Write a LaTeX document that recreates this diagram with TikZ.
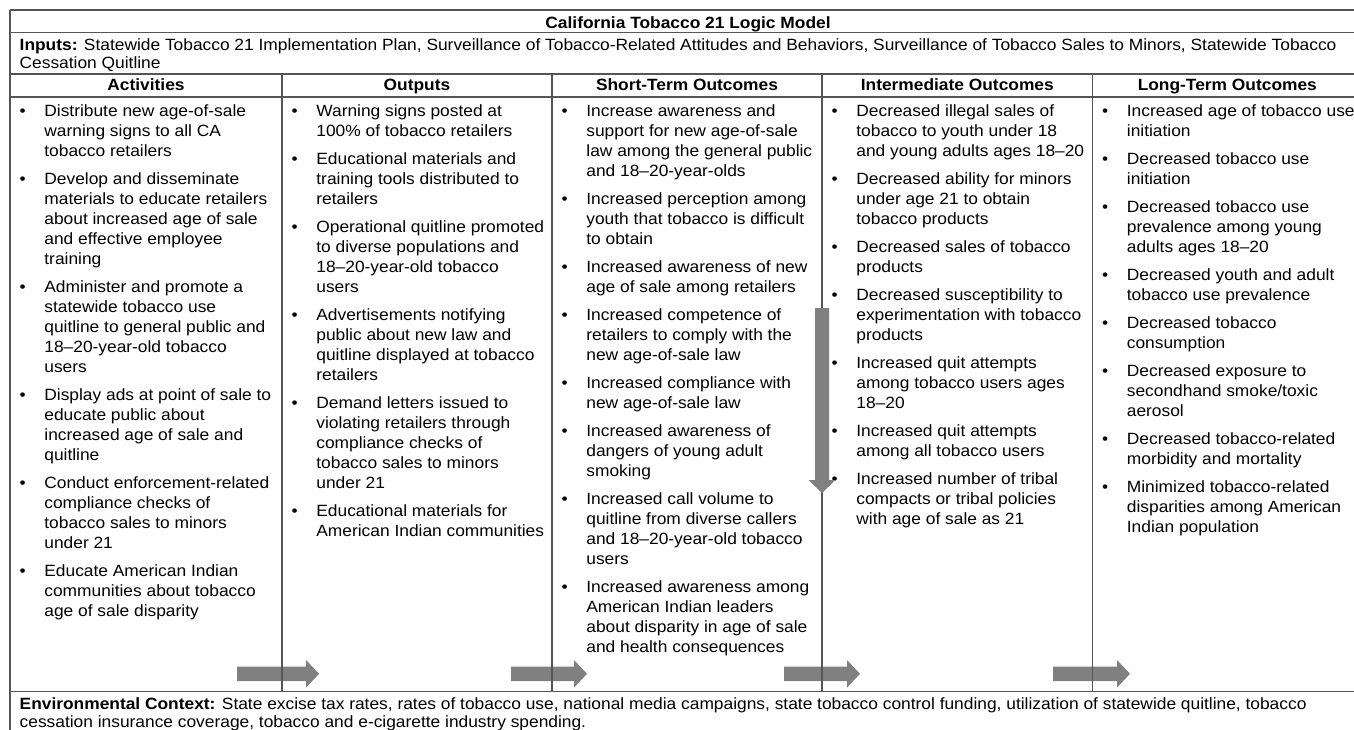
\documentclass[tikz,border=0pt]{standalone}
\usepackage{fontspec}
\setmainfont{Liberation Sans}[FakeStretch=1.065]
\definecolor{rulec}{HTML}{555555}
\definecolor{arrc}{HTML}{808080}
\newcommand\bodyfont{\fontsize{16.3}{20}\selectfont}
\tikzset{
  itm/.style={anchor=north west, inner sep=0pt, align=left, font=\bodyfont},
  bul/.style={anchor=base, inner sep=0pt, font=\bodyfont},
  hdr/.style={anchor=base, inner sep=0pt, font=\bodyfont\bfseries},
  rul/.style={draw=rulec, line width=1.2pt},
  arrw/.style={fill=arrc, draw=none},
}
\newcommand\bitem[4]{%
  \node[bul] (#1b) at (#2+12.7,#3) {•};
  \node[itm] (#1) at (#2+34.2,#3-14) {\strut #4};}
\newcommand\harr[3]{%
  \fill[arrw] (#1,#3-7.2) -- (#2-13,#3-7.2) -- (#2-13,#3-13.8) -- (#2,#3)
    -- (#2-13,#3+13.8) -- (#2-13,#3+7.2) -- (#1,#3+7.2) -- cycle;}
\begin{document}
\begin{tikzpicture}[x=1pt,y=-1pt]
\useasboundingbox (0,0) rectangle (1354,729);
\clip (0,0) rectangle (1354,729);
\fill[white] (0,0) rectangle (1354,729);
% horizontal arrows (under rules)
\harr{237}{319}{673.8}
\harr{511}{587}{673.8}
\harr{784}{860}{673.8}
\harr{1053}{1130}{673.8}
% rules
\draw[rul] (10,10) -- (1362,10);
\draw[rul] (10,32.5) -- (1362,32.5);
\draw[rul] (10,74) -- (1362,74);
\draw[rul] (10,97) -- (1362,97);
\draw[rul] (10,691.5) -- (1362,691.5);
\draw[rul] (10,10) -- (10,740);
\draw[rul] (1362,10) -- (1362,740);
\foreach \xx in {282,552,822,1092.5} \draw[rul] (\xx,74) -- (\xx,691.5);
% title / inputs
\node[hdr] (title) at (688,28.3) {California Tobacco 21 Logic Model};
\node[itm, font=\fontsize{16.3}{18.3}\selectfont] (inputs) at (19.5,37.2) {\strut\textbf{Inputs:} Statewide Tobacco 21 Implementation Plan, Surveillance of Tobacco-Related Attitudes and Behaviors, Surveillance of Tobacco Sales to Minors, Statewide Tobacco\\Cessation Quitline};
% headers
\node[hdr] (h1) at (146,90.7) {Activities};
\node[hdr] (h2) at (417,90.7) {Outputs};
\node[hdr] (h3) at (687,90.7) {Short-Term Outcomes};
\node[hdr] (h4) at (957.3,90.7) {Intermediate Outcomes};
\node[hdr] (h5) at (1227.3,90.7) {Long-Term Outcomes};
% column 1
\bitem{a1}{10}{116.3}{Distribute new age-of-sale\\warning signs to all CA\\tobacco retailers}
\bitem{a2}{10}{184.3}{Develop and disseminate\\materials to educate retailers\\about increased age of sale\\and effective employee\\training}
\bitem{a3}{10}{292.3}{Administer and promote a\\statewide tobacco use\\quitline to general public and\\18–20-year-old tobacco\\users}
\bitem{a4}{10}{400.3}{Display ads at point of sale to\\educate public about\\increased age of sale and\\quitline}
\bitem{a5}{10}{488.3}{Conduct enforcement-related\\compliance checks of\\tobacco sales to minors\\under 21}
\bitem{a6}{10}{576.3}{Educate American Indian\\communities about tobacco\\age of sale disparity}
% column 2
\bitem{o1}{282}{116.3}{Warning signs posted at\\100\% of tobacco retailers}
\bitem{o2}{282}{164.3}{Educational materials and\\training tools distributed to\\retailers}
\bitem{o3}{282}{232.3}{Operational quitline promoted\\to diverse populations and\\18–20-year-old tobacco\\users}
\bitem{o4}{282}{320.3}{Advertisements notifying\\public about new law and\\quitline displayed at tobacco\\retailers}
\bitem{o5}{282}{408.3}{Demand letters issued to\\violating retailers through\\compliance checks of\\tobacco sales to minors\\under 21}
\bitem{o6}{282}{516.3}{Educational materials for\\American Indian communities}
% column 3
\bitem{s1}{552}{116.3}{Increase awareness and\\support for new age-of-sale\\law among the general public\\and 18–20-year-olds}
\bitem{s2}{552}{204.3}{Increased perception among\\youth that tobacco is difficult\\to obtain}
\bitem{s3}{552}{272.3}{Increased awareness of new\\age of sale among retailers}
\bitem{s4}{552}{320.3}{Increased competence of\\retailers to comply with the\\new age-of-sale law}
\bitem{s5}{552}{388.3}{Increased compliance with\\new age-of-sale law}
\bitem{s6}{552}{436.3}{Increased awareness of\\dangers of young adult\\smoking}
\bitem{s7}{552}{504.3}{Increased call volume to\\quitline from diverse callers\\and 18–20-year-old tobacco\\users}
\bitem{s8}{552}{592.3}{Increased awareness among\\American Indian leaders\\about disparity in age of sale\\and health consequences}
% column 4
\bitem{i1}{822}{116.3}{Decreased illegal sales of\\tobacco to youth under 18\\and young adults ages 18–20}
\bitem{i2}{822}{184.3}{Decreased ability for minors\\under age 21 to obtain\\tobacco products}
\bitem{i3}{822}{252.3}{Decreased sales of tobacco\\products}
\bitem{i4}{822}{300.3}{Decreased susceptibility to\\experimentation with tobacco\\products}
\bitem{i5}{822}{368.3}{Increased quit attempts\\among tobacco users ages\\18–20}
\bitem{i6}{822}{436.3}{Increased quit attempts\\among all tobacco users}
\bitem{i7}{822}{484.3}{Increased number of tribal\\compacts or tribal policies\\with age of sale as 21}
% column 5
\bitem{l1}{1092.5}{116.3}{Increased age of tobacco use\\initiation}
\bitem{l2}{1092.5}{164.3}{Decreased tobacco use\\initiation}
\bitem{l3}{1092.5}{212.3}{Decreased tobacco use\\prevalence among young\\adults ages 18–20}
\bitem{l4}{1092.5}{280.3}{Decreased youth and adult\\tobacco use prevalence}
\bitem{l5}{1092.5}{328.3}{Decreased tobacco\\consumption}
\bitem{l6}{1092.5}{376.3}{Decreased exposure to\\secondhand smoke/toxic\\aerosol}
\bitem{l7}{1092.5}{444.3}{Decreased tobacco-related\\morbidity and mortality}
\bitem{l8}{1092.5}{492.3}{Minimized tobacco-related\\disparities among American\\Indian population}
% environmental context
\node[itm, font=\fontsize{16.3}{18}\selectfont] (env) at (19.5,696.4) {\strut\textbf{Environmental Context:} State excise tax rates, rates of tobacco use, national media campaigns, state tobacco control funding, utilization of statewide quitline, tobacco\\cessation insurance coverage, tobacco and e-cigarette industry spending.};
% vertical arrow
\fill[arrw] (815,308) -- (829,308) -- (829,480) -- (835.5,480) -- (822,493) -- (808.5,480) -- (815,480) -- cycle;
\end{tikzpicture}
\end{document}
